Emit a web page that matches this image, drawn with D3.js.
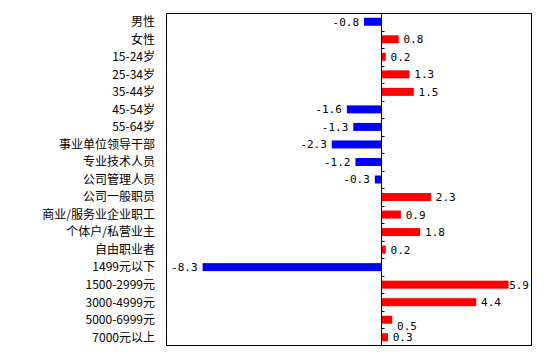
<!DOCTYPE html>
<html><head><meta charset="utf-8">
<script src="https://cdn.jsdelivr.net/npm/d3@7"></script>
<style>body{margin:0;background:#fff}</style>
</head><body>
<svg id="c" width="549" height="355"></svg>
<script>
const categories = ["男性","女性","15-24岁","25-34岁","35-44岁","45-54岁","55-64岁","事业单位领导干部","专业技术人员","公司管理人员","公司一般职员","商业/服务业企业职工","个体户/私营业主","自由职业者","1499元以下","1500-2999元","3000-4999元","5000-6999元","7000元以上"];
const values = [-0.8,0.8,0.2,1.3,1.5,-1.6,-1.3,-2.3,-1.2,-0.3,2.3,0.9,1.8,0.2,-8.3,5.9,4.4,0.5,0.3];
const xDomain = [-10, 7];

const svg = d3.select("#c");
const L = 166, R = 532, T = 13, B = 346;
const x = d3.scaleLinear().domain(xDomain).range([L, R]);
const y = d3.scaleBand().domain(categories).range([T, B]);
const x0 = Math.round(x(0)) + 0.5;

// bars
svg.selectAll("rect.bar").data(values).join("rect")
  .attr("x", d => d < 0 ? x(d) : x0)
  .attr("width", d => Math.abs(x(d) - x(0)))
  .attr("y", (d,i) => y(categories[i]) + y.bandwidth()/2 - 4)
  .attr("height", 8)
  .attr("fill", d => d < 0 ? "#0000ff" : "#ff0000");

// box
svg.append("rect").attr("x", L + 0.5).attr("y", T + 0.5)
  .attr("width", R - L - 1).attr("height", B - T - 1)
  .attr("fill", "none").attr("stroke", "#000").attr("stroke-width", 1);

// zero axis with ticks
svg.append("line").attr("x1", x0).attr("x2", x0).attr("y1", T).attr("y2", B)
  .attr("stroke", "#000");
svg.selectAll("line.tk").data(categories.slice(1)).join("line")
  .attr("x1", x0).attr("x2", x0 + 3)
  .attr("y1", d => Math.round(y(d)) + 0.5).attr("y2", d => Math.round(y(d)) + 0.5)
  .attr("stroke", "#000");

// category labels
svg.selectAll("text.cat").data(categories).join("text")
  .attr("x", 155).attr("y", d => y(d) + y.bandwidth()/2)
  .attr("dy", "0.36em").attr("text-anchor", "end")
  .attr("font-family", "'Noto Sans CJK SC', sans-serif").attr("font-size", 12)
  .attr("fill", "#000").text(d => d);

// value labels
const fmt = d => d3.format(".1f")(d).replace("\u2212", "-");
svg.selectAll("text.val").data(values).join("text")
  .each(function(d, i) {
    const t = d3.select(this);
    let cy = y(categories[i]) + y.bandwidth()/2;
    if (i === 17) cy += 6;
    let xv, anchor;
    if (d < 0) { xv = x(d) - 5; anchor = "end"; }
    else {
      xv = x(d) + 5; anchor = "start";
      if (xv + 21 > R - 2) { xv = R - 3; anchor = "end"; }
    }
    t.attr("x", xv).attr("y", cy).attr("dy", "0.36em").attr("text-anchor", anchor);
  })
  .attr("font-family", "'DejaVu Sans Mono', monospace").attr("font-size", 11)
  .attr("fill", "#000").text(d => fmt(d));
</script>
</body></html>
